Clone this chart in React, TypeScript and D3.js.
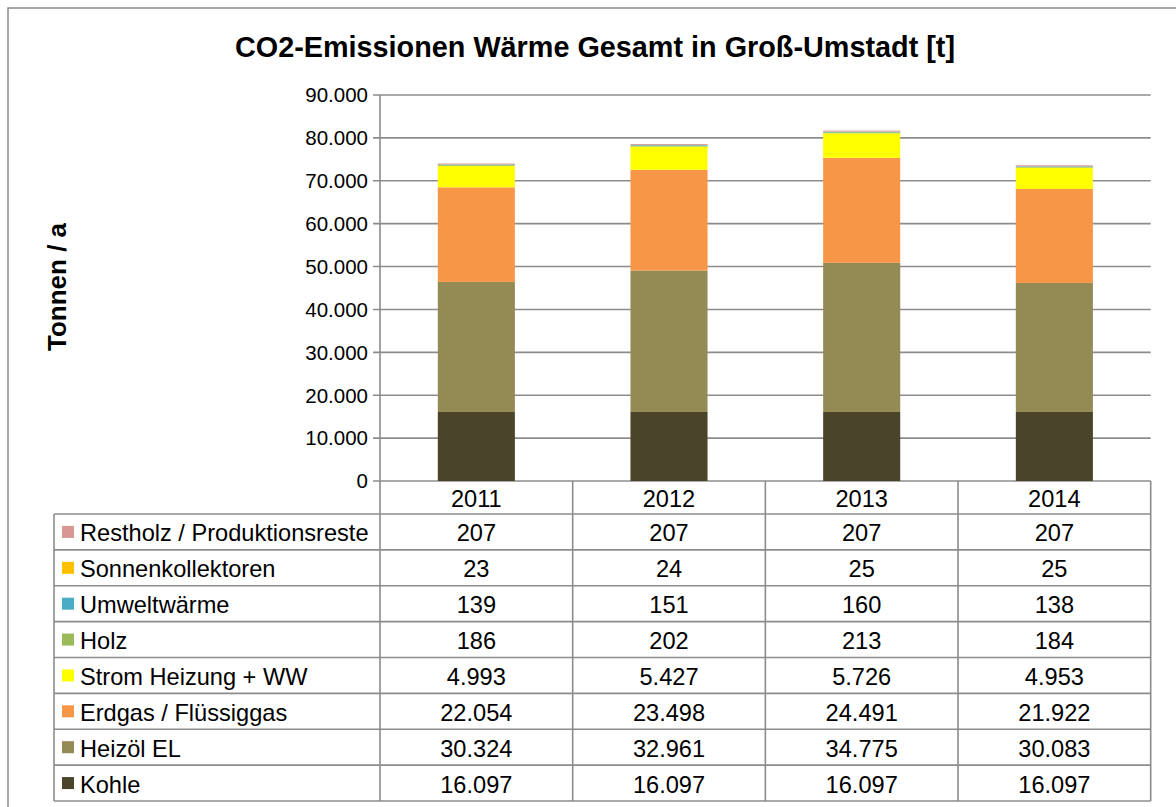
import React from "react";
import * as d3 from "d3";

const years = ["2011", "2012", "2013", "2014"];
const seriesNames = [
  "Restholz / Produktionsreste",
  "Sonnenkollektoren",
  "Umweltwärme",
  "Holz",
  "Strom Heizung + WW",
  "Erdgas / Flüssiggas",
  "Heizöl EL",
  "Kohle",
];
const seriesColors = ["#d99694", "#ffc000", "#4bacc6", "#9bbb59", "#ffff00", "#f79646", "#948a54", "#4a452a"];
const restholz = [207, 207, 207, 207];
const sonnenkollektoren = [23, 24, 25, 25];
const umweltwaerme = [139, 151, 160, 138];
const holz = [186, 202, 213, 184];
const strom = [4993, 5427, 5726, 4953];
const erdgas = [22054, 23498, 24491, 21922];
const heizoel = [30324, 32961, 34775, 30083];
const kohle = [16097, 16097, 16097, 16097];
const seriesValues = [restholz, sonnenkollektoren, umweltwaerme, holz, strom, erdgas, heizoel, kohle];
const yTicks = [0, 10000, 20000, 30000, 40000, 50000, 60000, 70000, 80000, 90000];

const fmt = (v: number) => d3.format(",")(v).replace(/,/g, ".");

export default function App() {
  const W = 1176, H = 807;
  const left = 380, right = 1150.7;
  const top = 95, bottom = 481;
  const tableLeft = 54;
  const headerBottom = 514;
  const tableBottom = 801;
  const rowH = (tableBottom - headerBottom) / seriesNames.length;
  const font = "'Liberation Sans', Arial, sans-serif";
  const grid = "#8c8c8c";
  const tfs = 23.6;

  const x = d3.scaleBand().domain(years).range([left, right]).paddingInner(0).paddingOuter(0);
  const y = d3.scaleLinear().domain([0, 90000]).range([bottom, top]);
  const barW = x.bandwidth() * 0.4;

  const stackOrder = seriesNames.map((_, i) => seriesNames.length - 1 - i);
  const rows = years.map((yr, j) => {
    const o: any = { year: yr };
    seriesNames.forEach((n, i) => (o[n] = seriesValues[i][j]));
    return o;
  });
  const stack = d3.stack<any>().keys(stackOrder.map((i) => seriesNames[i]));
  const stacked = stack(rows);

  return (
    <svg width={W} height={H} style={{ position: "absolute", left: 0, top: 0 }} fontFamily={font}>
      <rect x={0} y={0} width={W} height={H} fill="#fff" />
      <rect x={8} y={8} width={W} height={H} fill="#fff" stroke="#8c8c8c" strokeWidth={1.5} />
      <text x={595} y={57} textAnchor="middle" fontSize={28.8} fontWeight="bold" fill="#000">
        CO2-Emissionen Wärme Gesamt in Groß-Umstadt [t]
      </text>
      <text transform={`translate(66,${287}) rotate(-90)`} textAnchor="middle" fontSize={26} fontWeight="bold" fill="#000">
        Tonnen / a
      </text>
      {yTicks.map((t) => (
        <g key={t}>
          <line x1={left - 7} x2={right} y1={y(t)} y2={y(t)} stroke={grid} strokeWidth={1.6} />
          <text x={368} y={y(t)} dy="0.36em" textAnchor="end" fontSize={20.5} fill="#000">
            {fmt(t)}
          </text>
        </g>
      ))}
      {stacked.map((layer) => {
        const idx = seriesNames.indexOf(layer.key as string);
        return (
          <g key={layer.key as string} fill={seriesColors[idx]}>
            {layer.map((d, j) => (
              <rect
                key={j}
                x={(x(years[j]) as number) + (x.bandwidth() - barW) / 2}
                y={y(d[1])}
                width={barW}
                height={Math.max(0, y(d[0]) - y(d[1]))}
              />
            ))}
          </g>
        );
      })}
      <line x1={left} x2={left} y1={top} y2={tableBottom} stroke={grid} strokeWidth={1.6} />
      {years.map((yr) => (
        <text key={yr} x={(x(yr) as number) + x.bandwidth() / 2} y={(bottom + headerBottom) / 2 + 1} dy="0.36em" textAnchor="middle" fontSize={tfs} fill="#000">
          {yr}
        </text>
      ))}
      {years.map((yr, j) => (
        <line key={"v" + j} x1={(x(yr) as number) + x.bandwidth()} x2={(x(yr) as number) + x.bandwidth()} y1={bottom} y2={tableBottom} stroke={grid} strokeWidth={1.6} />
      ))}
      <line x1={tableLeft} x2={tableLeft} y1={headerBottom} y2={tableBottom} stroke={grid} strokeWidth={1.6} />
      {seriesNames.map((n, i) => {
        const ry = headerBottom + i * rowH;
        return (
          <g key={n}>
            <line x1={tableLeft} x2={right} y1={ry} y2={ry} stroke={grid} strokeWidth={1.6} />
            <rect x={62} y={ry + rowH / 2 - 6} width={12} height={12} fill={seriesColors[i]} />
            <text x={80} y={ry + rowH / 2 + 1} dy="0.36em" fontSize={tfs} fill="#000">
              {n}
            </text>
            {years.map((yr, j) => (
              <text key={yr} x={(x(yr) as number) + x.bandwidth() / 2} y={ry + rowH / 2 + 1} dy="0.36em" textAnchor="middle" fontSize={tfs} fill="#000">
                {fmt(seriesValues[i][j])}
              </text>
            ))}
          </g>
        );
      })}
      <line x1={tableLeft} x2={right} y1={tableBottom} y2={tableBottom} stroke={grid} strokeWidth={1.6} />
    </svg>
  );
}
